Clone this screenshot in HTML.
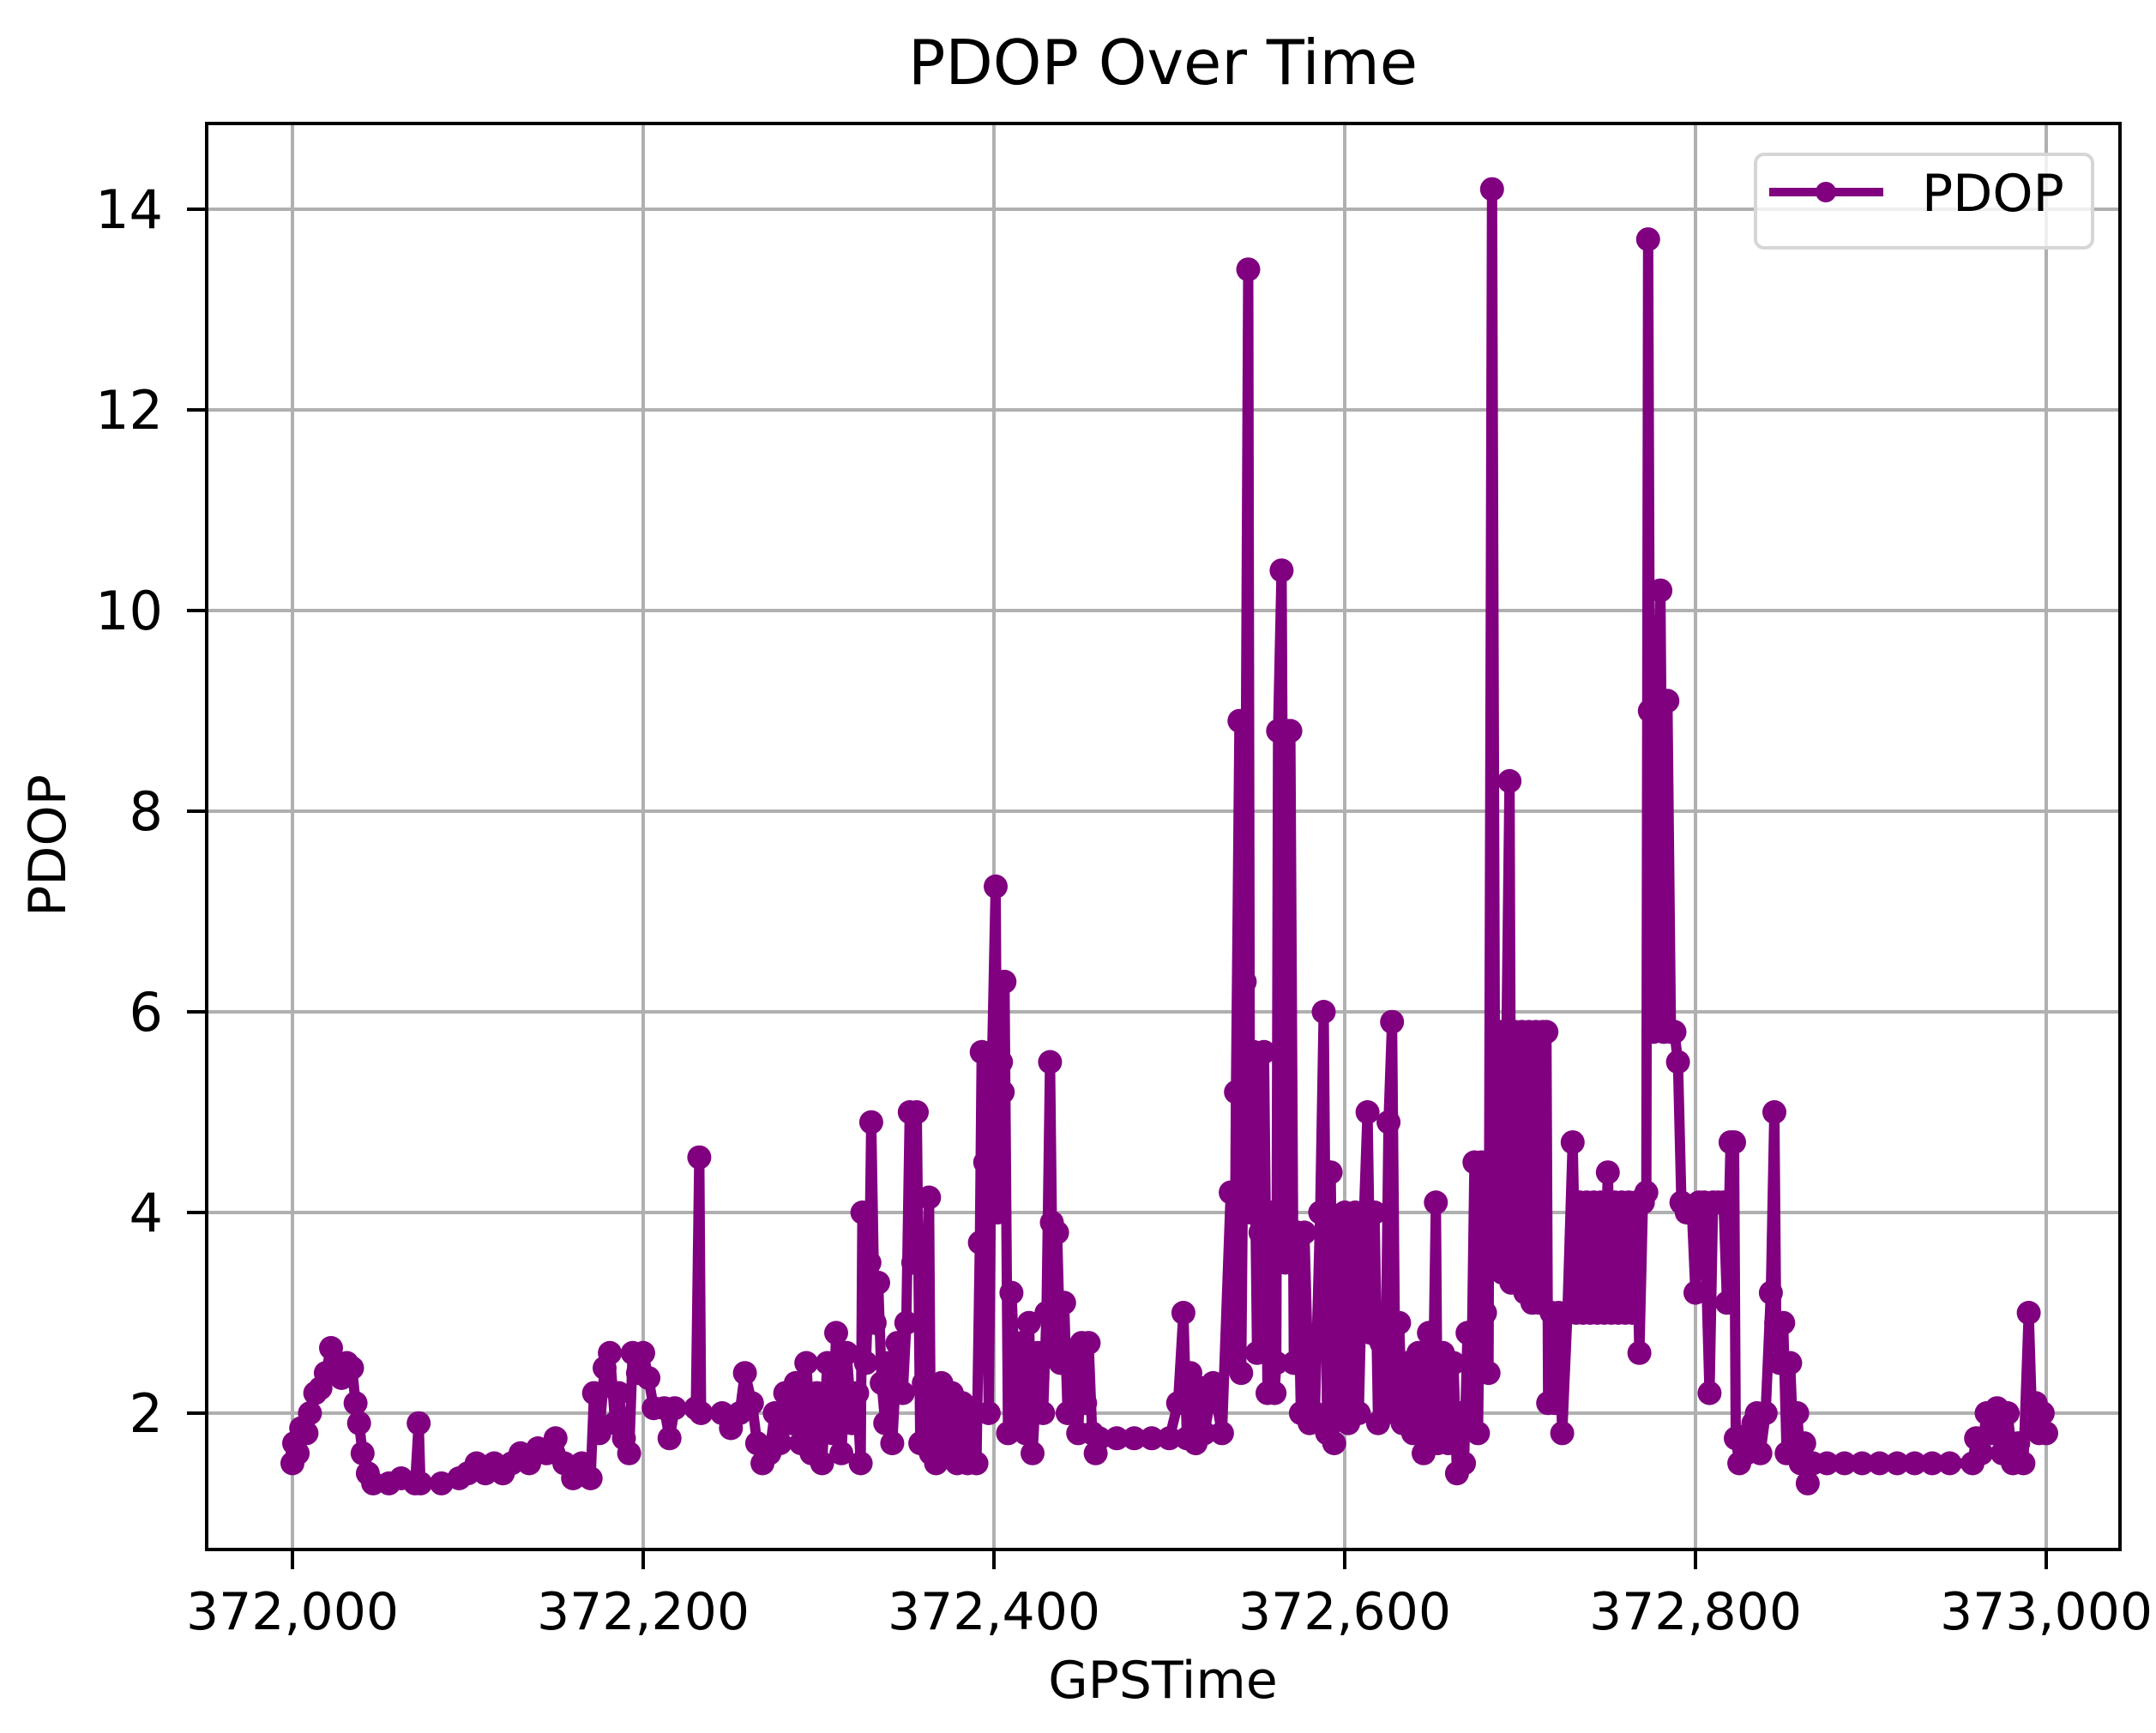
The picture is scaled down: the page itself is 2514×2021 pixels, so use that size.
<!DOCTYPE html>
<html><head><meta charset="utf-8"><style>
html,body{margin:0;padding:0;background:#fff}
svg{display:block}
text{font-family:"DejaVu Sans","Liberation Sans",sans-serif;fill:#000}
</style></head><body>
<svg id="chart" width="2514" height="2021" viewBox="0 0 2514 2021" xmlns="http://www.w3.org/2000/svg">
<rect x="0" y="0" width="2514" height="2021" fill="#fff"/>
<text x="1356" y="98" font-size="72" text-anchor="middle">PDOP Over Time</text>
<g id="grid"></g>
<g id="series"></g>
<rect x="241" y="144" width="2231" height="1663" fill="none" stroke="#000" stroke-width="4"/>
<g id="axes"></g>
<text x="1356" y="1980" font-size="60" text-anchor="middle">GPSTime</text>
<text x="0" y="0" font-size="60" text-anchor="middle" transform="translate(76,986) rotate(-90)">PDOP</text>
<g>
<rect x="2047" y="180" width="393" height="109" rx="10" fill="#fff" fill-opacity="0.8" stroke="#d6d6d6" stroke-width="4"/>
<line x1="2063" y1="224" x2="2196" y2="224" stroke="#800080" stroke-width="10"/>
<circle cx="2129" cy="224" r="12" fill="#800080"/>
<text x="2241" y="246" font-size="60">PDOP</text>
</g>
</svg>
<script>
const xTicks = [372000, 372200, 372400, 372600, 372800, 373000];
const xTickLabels = ["372,000", "372,200", "372,400", "372,600", "372,800", "373,000"];
const yTicks = [2, 4, 6, 8, 10, 12, 14];
const yTickLabels = ["2", "4", "6", "8", "10", "12", "14"];
const timeOffsets = [0,1,3,5,8,10,13,16,19,22,25,28,31,34,36,38,40,43,46,55,62,70,72,73,85,95,100,105,110,115,120,125,130,135,140,145,150,155,160,165,170,172,175,178,181,184,186,189,192,194,197,200,203,206,212,215,218,230,232,233,245,250,255,258,262,265,268,272,275,278,281,284,287,290,293,296,299,302,305,308,310,313,316,319,322,324,325,327,329,330,332,334,336,338,340,342,345,348,350,352,354,356,358,360,363,364,367,370,373,376,379,382,385,388,390,392,393,395,397,399,401,402,404,405,406,408,410,412,414,416,418,420,422,425,428,430,432,433,435,436,438,440,442,445,448,450,452,454,456,458,460,470,480,490,500,505,508,510,512,515,518,520,525,530,535,537,538,540,541,543,545,546,548,550,552,554,556,558,560,561,562,564,566,567,569,571,573,575,577,580,583,586,588,590,592,594,596,598,600,602,604,606,608,610,613,615,617,619,621,623,625,627,629,631,633,636,639,642,645,648,650,652,653,656,659,662,664,666,668,670,672,674,676,678,680,682,684,686,688,690,692,694,695,697,699,701,703,705,707,709,711,713,715,716,718,720,722,724,727,730,732,734,736,738,740,742,744,746,748,750,752,754,756,758,760,762,764,766,768,770,772,773,774,776,778,780,782,784,786,788,790,792,795,798,800,802,805,808,810,813,816,818,820,822,823,825,827,829,831,833,835,837,840,843,845,846,848,850,852,854,856,858,860,862,864,867,875,885,895,905,915,925,935,945,958,960,963,966,969,972,975,978,981,984,987,990,992,994,996,998,1000];
const pdopValues = [1.5,1.7,1.6,1.85,1.8,2.0,2.2,2.25,2.4,2.65,2.4,2.35,2.5,2.45,2.1,1.9,1.6,1.4,1.3,1.3,1.35,1.3,1.9,1.3,1.3,1.35,1.4,1.5,1.4,1.5,1.4,1.5,1.6,1.5,1.65,1.6,1.75,1.5,1.35,1.5,1.35,2.2,1.8,2.45,2.6,1.9,2.2,1.75,1.6,2.6,2.4,2.6,2.35,2.05,2.05,1.75,2.05,2.05,4.55,2.0,2.0,1.85,2.0,2.4,2.1,1.7,1.5,1.6,2.0,1.7,2.2,1.9,2.3,1.7,2.5,1.6,2.2,1.5,2.5,1.8,2.8,1.6,2.6,1.9,2.2,1.5,4.0,2.5,3.5,4.9,2.9,3.3,2.3,1.9,2.5,1.7,2.7,2.2,2.9,5.0,3.5,5.0,1.7,2.3,4.15,1.6,1.5,2.3,1.6,2.2,1.5,2.1,1.5,2.0,1.5,3.7,5.6,4.5,2.0,5.6,7.25,4.0,5.5,5.2,6.3,1.8,3.2,2.4,2.0,2.7,1.8,2.9,1.6,2.6,2.0,3.0,5.5,3.9,2.6,3.8,2.5,3.1,2.0,2.6,1.8,2.7,2.1,2.7,1.8,1.6,1.75,1.75,1.75,1.75,1.75,2.1,3.0,1.75,2.4,1.7,2.25,1.8,2.3,1.8,4.2,2.5,5.2,8.9,2.4,6.3,13.4,4.0,5.6,2.6,3.8,5.6,2.2,4.0,2.2,2.5,8.8,10.4,3.5,8.8,8.8,2.5,3.8,2.0,3.8,1.9,2.0,4.0,6.0,1.8,4.4,1.7,3.8,2.0,4.0,1.9,3.0,4.0,2.0,3.5,5.0,2.8,4.0,1.9,2.7,2.0,4.9,5.9,2.0,2.9,1.9,2.5,1.8,2.6,1.6,2.8,1.8,4.1,1.7,2.6,1.7,2.5,1.4,2.0,1.5,2.8,2.0,4.5,1.8,4.5,3.0,2.4,14.2,3.5,5.8,3.4,5.4,8.3,3.3,5.8,3.3,5.8,3.2,5.8,3.1,5.8,3.1,5.8,5.8,2.1,3.0,2.1,3.0,1.8,3.0,4.7,3.0,4.1,3.0,4.1,3.0,4.1,3.0,4.1,3.0,4.4,3.0,4.1,3.0,4.1,3.0,4.1,3.0,4.1,2.6,4.1,4.2,13.7,9.0,5.8,8.6,10.2,5.8,9.1,5.8,5.8,5.5,4.1,4.0,4.0,3.2,4.1,4.1,2.2,4.1,4.1,4.1,3.1,4.7,4.7,1.75,1.5,1.7,1.6,1.8,1.9,2.0,1.6,2.0,3.2,5.0,2.9,2.5,2.9,1.6,2.5,1.6,2.0,1.5,1.7,1.3,1.5,1.5,1.5,1.5,1.5,1.5,1.5,1.5,1.5,1.5,1.75,1.6,2.0,1.8,2.05,1.6,2.0,1.5,1.7,1.5,3.0,1.9,2.1,1.8,2.0,1.8];

const NS = "http://www.w3.org/2000/svg";
const X0 = 372000, X1 = 373000, PX0 = 341, PX1 = 2386;
const Y0 = 2, Y1 = 14, PY0 = 1648, PY1 = 244;
function xScale(v){ return PX0 + (v - X0) / (X1 - X0) * (PX1 - PX0); }
function yScale(v){ return PY0 + (v - Y0) / (Y1 - Y0) * (PY1 - PY0); }
function mk(tag, attrs, parent){ const e = document.createElementNS(NS, tag); for (const k in attrs) e.setAttribute(k, attrs[k]); parent.appendChild(e); return e; }

const grid = document.getElementById('grid');
const axes = document.getElementById('axes');
const series = document.getElementById('series');

xTicks.forEach((t, i) => {
  const x = xScale(t);
  const g = mk('line', {x1:x, y1:144, x2:x, y2:1807, stroke:'#b0b0b0', 'stroke-width':4}, grid);
  
  
  const tk = mk('line', {x1:x, y1:1807, x2:x, y2:1830, stroke:'#000', 'stroke-width':4}, axes);
  
  
  const lb = mk('text', {x:x, y:1900, 'font-size':60, 'text-anchor':'middle'}, axes);
  lb.textContent = xTickLabels[i];
  
  
});
yTicks.forEach((t, i) => {
  const y = yScale(t);
  const g = mk('line', {x1:241, y1:y, x2:2472, y2:y, stroke:'#b0b0b0', 'stroke-width':4}, grid);
  
  
  const tk = mk('line', {x1:218, y1:y, x2:241, y2:y, stroke:'#000', 'stroke-width':4}, axes);
  
  
  const lb = mk('text', {x:190, y:y + 22, 'font-size':62, 'text-anchor':'end'}, axes);
  lb.textContent = yTickLabels[i];
  
  
});

const pts = timeOffsets.map((t, i) => [xScale(X0 + t), yScale(pdopValues[i])]);
const line = mk('polyline', {points: pts.map(p => p[0].toFixed(1) + ',' + p[1].toFixed(1)).join(' '), fill:'none', stroke:'#800080', 'stroke-width':12, 'stroke-linejoin':'round'}, series);


pts.forEach(p => {
  const c = mk('circle', {cx:p[0].toFixed(1), cy:p[1].toFixed(1), r:14, fill:'#800080'}, series);
  
  
});
</script>
</body></html>
